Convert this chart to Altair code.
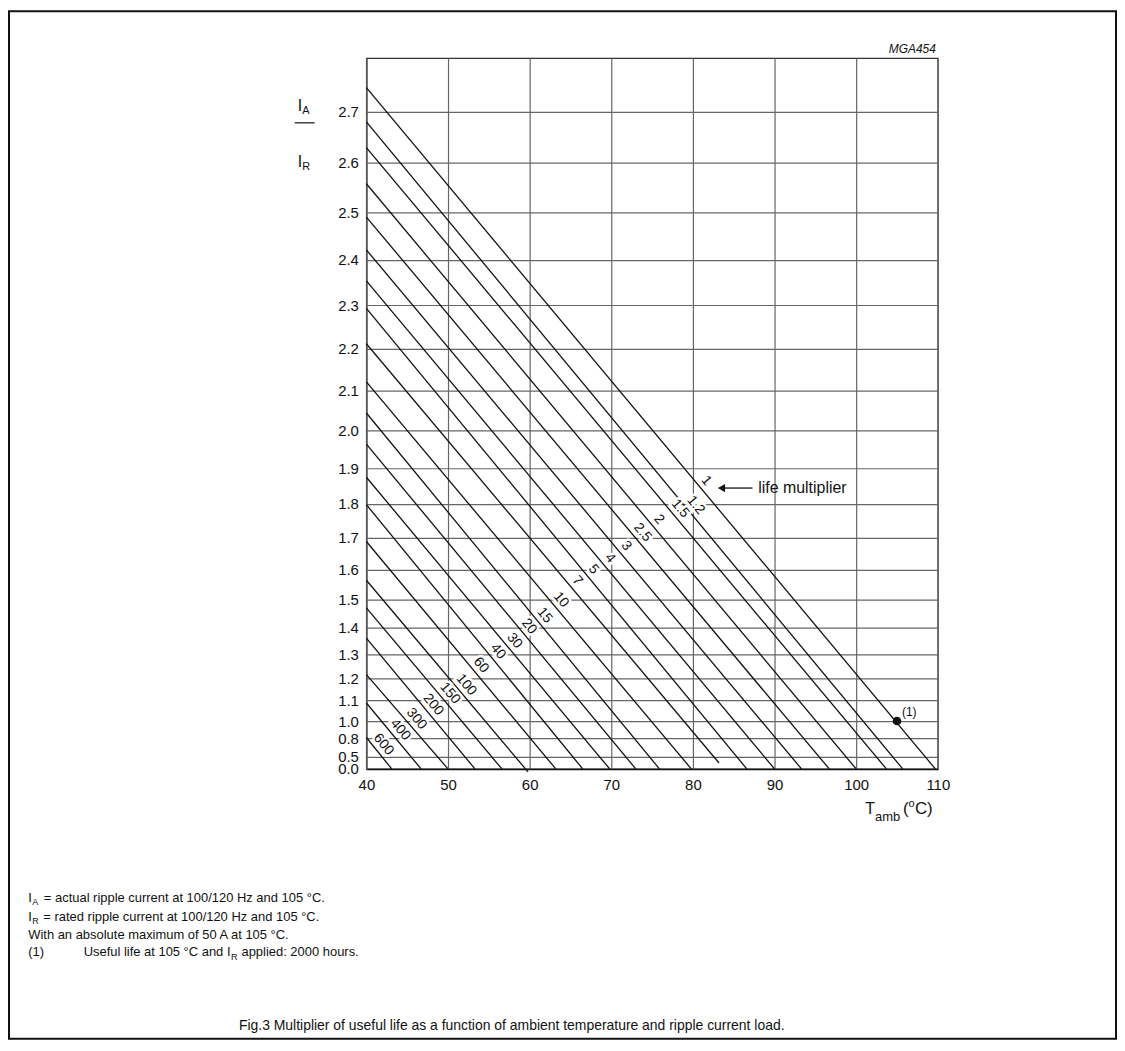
import altair as alt
import numpy as np
import pandas as pd

FONT = "Liberation Sans"
INK = "#111111"
GRID = "#666666"

# ---------------- values ----------------
multipliers = ["1", "1.2", "1.5", "2", "2.5", "3", "4", "5", "7", "10", "15",
               "20", "30", "40", "60", "100", "150", "200", "300", "400", "600"]
start_temp = [40.0] * 21
start_ratio = [2.745, 2.680, 2.630, 2.558, 2.490, 2.421, 2.354, 2.293, 2.212, 2.121, 2.044,
               1.964, 1.875, 1.798, 1.689, 1.566, 1.472, 1.362, 1.216, 1.089, 0.810]
end_temp = [109.7, 105.7, 103.7, 100.0, 96.7, 93.3, 90.0, 86.6, 83.2, 79.8, 75.9,
            73.0, 69.8, 66.5, 63.2, 59.8, 56.6, 53.3, 50.0, 46.7, 43.1]
end_ratio = [0.0, 0.0, 0.0, 0.0, 0.0, 0.0, 0.0, 0.0, 0.35, 0.0, 0.0,
             0.0, 0.0, 0.0, 0.0, -0.25, 0.0, 0.0, 0.0, 0.0, 0.0]
label_temp = [80.8, 79.5, 77.6, 75.0, 73.0, 71.0, 69.0, 67.0, 65.0, 63.0, 61.0,
              59.1, 57.3, 55.3, 53.2, 51.4, 49.4, 47.35, 45.3, 43.3, 41.25]

x_ticks = [40, 50, 60, 70, 80, 90, 100, 110]
y_ticks = [0.0, 0.5, 0.8, 1.0, 1.1, 1.2, 1.3, 1.4, 1.5, 1.6, 1.7, 1.8, 1.9,
           2.0, 2.1, 2.2, 2.3, 2.4, 2.5, 2.6, 2.7]
y_top = 2.8

point_temp = [105.0]
point_ratio = [1.0]
arrow_temp = [87.3, 83.9]
arrow_head_temp = [83.5]
arrow_ratio = [1.845, 1.845]
note_temp = [88.0]

# ---------------- the chart's ripple-current scale ----------------
# I^2 scale, with the part above 1.0 drawn about twice as tall as the part below.
STRETCH = 2.025


def ripple_scale(r):
    r = float(r)
    if abs(r) <= 1.0:
        return float(np.sign(r) * r * r)
    return 1.0 + STRETCH * (r * r - 1.0)


U_TOP = ripple_scale(y_top)

rows = []
for m, t0, r0, t1, r1 in zip(multipliers, start_temp, start_ratio, end_temp, end_ratio):
    rows.append({"mult": m, "temp": t0, "u": ripple_scale(r0), "k": 0})
    rows.append({"mult": m, "temp": t1, "u": ripple_scale(r1), "k": 1})
lines_df = pd.DataFrame(rows)

lab_rows = []
for m, t0, r0, t1, r1, tl in zip(multipliers, start_temp, start_ratio, end_temp, end_ratio, label_temp):
    u0, u1 = ripple_scale(r0), ripple_scale(r1)
    ul = u0 + (tl - t0) / (t1 - t0) * (u1 - u0)
    lab_rows.append({"mult": m, "temp": tl, "u": ul})
labels_df = pd.DataFrame(lab_rows)

point_df = pd.DataFrame({"temp": point_temp, "u": [ripple_scale(v) for v in point_ratio]})
arrow_df = pd.DataFrame({"temp": arrow_temp, "u": [ripple_scale(v) for v in arrow_ratio]})
head_df = pd.DataFrame({"temp": arrow_head_temp, "u": [ripple_scale(arrow_ratio[0])]})
note_df = pd.DataFrame({"temp": note_temp, "u": [ripple_scale(arrow_ratio[0])]})
anno_src = pd.DataFrame({"a": [0]})

# ---------------- encodings ----------------
x_enc = alt.X(
    "temp:Q",
    scale=alt.Scale(domain=[40, 110], nice=False, zero=False),
    axis=alt.Axis(values=x_ticks, title=None, ticks=False, format="d",
                  labelFont=FONT, labelFontSize=15, labelColor=INK, labelPadding=9,
                  labelFlush=False, labelOverlap=False,
                  gridColor=GRID, gridWidth=1.2, domainColor=INK, domainWidth=1.5),
)
label_expr = ("format(datum.value <= 1 ? sqrt(max(datum.value, 0)) : "
              f"sqrt((datum.value - 1) / {STRETCH} + 1), '.1f')")
y_enc = alt.Y(
    "u:Q",
    scale=alt.Scale(domain=[0, U_TOP], nice=False, zero=False),
    axis=alt.Axis(values=[ripple_scale(v) for v in y_ticks], labelExpr=label_expr,
                  title=None, ticks=False,
                  labelFont=FONT, labelFontSize=15, labelColor=INK, labelPadding=8,
                  labelOverlap=False, labelFlush=False,
                  gridColor=GRID, gridWidth=1.2, domainColor="#555555", domainWidth=1.2),
)

lines = alt.Chart(lines_df).mark_line(color=INK, strokeWidth=1.3).encode(
    x=x_enc, y=y_enc, detail="mult:N", order="k:Q")

lab_base = alt.Chart(labels_df).encode(x=x_enc, y=y_enc, text="mult:N")
halo = lab_base.mark_text(angle=50, font=FONT, fontSize=14, dy=-9, baseline="middle",
                          color="white", stroke="white", strokeWidth=5)
labs = lab_base.mark_text(angle=50, font=FONT, fontSize=14, dy=-9, baseline="middle",
                          color=INK)

dot = alt.Chart(point_df).mark_circle(size=75, color=INK, opacity=1).encode(x=x_enc, y=y_enc)
dot_lab = alt.Chart(point_df).mark_text(text="(1)", align="left", baseline="middle",
                                        dx=5, dy=-9, font=FONT, fontSize=12,
                                        color=INK).encode(x=x_enc, y=y_enc)
arrow = alt.Chart(arrow_df).mark_line(color=INK, strokeWidth=1.3).encode(x=x_enc, y=y_enc)
head = alt.Chart(head_df).mark_point(shape="triangle-left", filled=True, size=70,
                                     color=INK, opacity=1).encode(x=x_enc, y=y_enc)
note = alt.Chart(note_df).mark_text(text="life multiplier", align="left", baseline="middle",
                                    font=FONT, fontSize=16, color=INK).encode(x=x_enc, y=y_enc)

# ---------------- page annotations (plot origin sits at page 368, 56) ----------------
OX, OY = 368, 56


def txt(s, px, py, size=13, align="left", baseline="middle", **kw):
    return alt.Chart(anno_src).mark_text(
        text=s, align=align, baseline=baseline, font=FONT, fontSize=size, color=INK, **kw
    ).encode(x=alt.value(px - OX), y=alt.value(py - OY))


annos = [
    # y-axis title  I_A / I_R
    txt("I", 299, 104, 16), txt("A", 303.5, 109, 11),
    alt.Chart(anno_src).mark_rule(color=INK, strokeWidth=1.2).encode(
        x=alt.value(296 - OX), x2=alt.value(316 - OX), y=alt.value(121 - OY)),
    txt("I", 299, 160, 16), txt("R", 303.5, 165, 11),
    # x-axis title  T_amb (°C)
    txt("T", 869, 815, 16, baseline="alphabetic"),
    txt("amb", 879, 822, 13, baseline="alphabetic"),
    txt("(", 907, 815, 17, baseline="alphabetic"),
    txt("o", 912.5, 808, 11, baseline="alphabetic"),
    txt("C)", 919, 815, 17, baseline="alphabetic"),
    # code
    txt("MGA454", 940, 47, 12, align="right", fontStyle="italic"),
    # notes
    txt("I", 28.3, 900), txt("A", 32.3, 904, 9),
    txt("= actual ripple current at 100/120 Hz and 105 °C.", 44, 900),
    txt("I", 28.3, 919), txt("R", 32.3, 923, 9),
    txt("= rated ripple current at 100/120 Hz and 105 °C.", 43.5, 919),
    txt("With an absolute maximum of 50 A at 105 °C.", 28.3, 936.7),
    txt("(1)", 28.3, 954.3),
    txt("Useful life at 105 °C and I", 84, 954.3),
    txt("R", 232, 958.5, 9),
    txt("applied: 2000 hours.", 242.5, 954.3),
    txt("Fig.3  Multiplier of useful life as a function of ambient temperature and ripple current load.",
        240, 1028, 14),
    # frame
    alt.Chart(anno_src).mark_rect(fillOpacity=0, stroke=INK, strokeWidth=2).encode(
        x=alt.value(9 - OX), x2=alt.value(1121 - OX), y=alt.value(9 - OY), y2=alt.value(1041 - OY)),
]

chart = alt.layer(lines, halo, labs, arrow, head, note, dot, dot_lab, *annos).properties(
    width=574, height=714,
    padding={"left": 360, "top": 48, "right": 180, "bottom": 272},
    autosize=alt.AutoSizeParams(type="none"),
).configure_view(stroke="#333333", strokeWidth=1.3)

chart.save("out.html", embed_options={"renderer": "svg", "actions": False})
